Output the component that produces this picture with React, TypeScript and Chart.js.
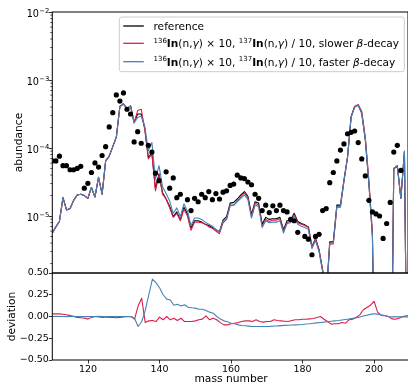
import React, { useEffect, useRef } from 'react';
import { Chart, registerables } from 'chart.js';

Chart.register(...registerables);

const FONT = '"DejaVu Sans", sans-serif';
const RED = '#dc1e46';
const BLUE = '#4682b4';

// ---------------- data ----------------
const massNumbers = [
  110, 111, 112, 113, 114, 115, 116, 117, 118, 119,
  120, 121, 122, 123, 124, 125, 126, 127, 128, 129,
  130, 131, 132, 133, 134, 135, 136, 137, 138, 139,
  140, 141, 142, 143, 144, 145, 146, 147, 148, 149,
  150, 151, 152, 153, 154, 155, 156, 157, 158, 159,
  160, 161, 162, 163, 164, 165, 166, 167, 168, 169,
  170, 171, 172, 173, 174, 175, 176, 177, 178, 179,
  180, 181, 182, 183, 184, 185, 186, 187, 188, 189,
  190, 191, 192, 193, 194, 195, 196, 197, 198, 199,
  200, 201, 202, 203, 204, 205, 206, 207, 208, 209,
  210,
];

// log10(abundance)
const referenceLog = [
  -5.25, -5.16, -5.08, -4.73, -4.91, -4.89, -4.77, -4.69, -4.68, -4.70,
  -4.74, -4.58, -4.72, -4.43, -4.68, -4.19, -4.12, -3.98, -3.84, -3.39,
  -3.35, -3.42, -3.38, -3.62, -3.50, -3.50, -3.71, -4.14, -4.07, -4.60,
  -4.38, -4.66, -4.75, -4.86, -5.01, -4.94, -5.06, -4.87, -4.97, -5.18,
  -5.07, -5.07, -5.09, -5.12, -5.14, -5.17, -5.20, -5.23, -5.06, -5.01,
  -4.81, -4.80, -4.75, -4.69, -4.64, -4.71, -4.98, -4.79, -4.81, -5.12,
  -5.02, -5.05, -5.04, -5.04, -5.02, -5.20, -5.07, -5.06, -4.96, -5.08,
  -5.11, -5.13, -5.16, -5.45, -5.33, -5.50, -5.79, -6.20, -5.38, -5.38,
  -4.84, -4.84, -4.47, -4.13, -3.54, -3.39, -3.37, -3.49, -3.88, -4.52,
  -5.30, -9.00, -9.00, -9.00, -9.00, -9.00, -4.30, -4.26, -4.74, -4.05,
  -9.00,
];

const slowerLog = [
  -5.25, -5.16, -5.08, -4.73, -4.91, -4.89, -4.77, -4.69, -4.68, -4.70,
  -4.74, -4.58, -4.72, -4.43, -4.68, -4.19, -4.12, -3.98, -3.84, -3.39,
  -3.35, -3.42, -3.38, -3.63, -3.45, -3.43, -3.73, -4.16, -4.09, -4.63,
  -4.39, -4.68, -4.75, -4.88, -5.02, -4.96, -5.07, -4.90, -5.00, -5.21,
  -5.09, -5.09, -5.10, -5.12, -5.16, -5.18, -5.22, -5.26, -5.10, -5.05,
  -4.85, -4.84, -4.78, -4.72, -4.66, -4.73, -5.01, -4.81, -4.84, -5.15,
  -5.05, -5.08, -5.06, -5.06, -5.04, -5.22, -5.10, -5.08, -4.98, -5.10,
  -5.12, -5.14, -5.17, -5.46, -5.34, -5.50, -5.80, -6.22, -5.41, -5.41,
  -4.87, -4.87, -4.49, -4.14, -3.55, -3.39, -3.36, -3.46, -3.84, -4.47,
  -5.23, -9.00, -9.00, -9.00, -9.00, -9.00, -4.31, -4.27, -4.74, -4.05,
  -9.00,
];

const fasterLog = [
  -5.25, -5.16, -5.08, -4.73, -4.91, -4.89, -4.77, -4.69, -4.68, -4.70,
  -4.74, -4.58, -4.72, -4.43, -4.68, -4.19, -4.12, -3.98, -3.84, -3.39,
  -3.35, -3.42, -3.38, -3.63, -3.55, -3.53, -3.68, -4.04, -3.92, -4.46,
  -4.26, -4.57, -4.67, -4.78, -4.96, -4.88, -5.01, -4.82, -4.93, -5.14,
  -5.03, -5.03, -5.05, -5.09, -5.12, -5.15, -5.20, -5.24, -5.08, -5.04,
  -4.84, -4.84, -4.79, -4.74, -4.69, -4.76, -5.03, -4.84, -4.86, -5.17,
  -5.07, -5.10, -5.09, -5.09, -5.07, -5.25, -5.11, -5.10, -5.00, -5.12,
  -5.15, -5.17, -5.20, -5.48, -5.36, -5.53, -5.82, -6.23, -5.40, -5.40,
  -4.86, -4.86, -4.48, -4.14, -3.55, -3.40, -3.37, -3.49, -3.87, -4.51,
  -5.29, -9.00, -9.00, -9.00, -9.00, -9.00, -4.30, -4.26, -4.74, -4.05,
  -9.00,
];

const solarMass = [
  110, 111, 112, 113, 114, 115, 116, 117, 118, 119,
  120, 121, 122, 123, 124, 125, 126, 127, 128, 129,
  130, 131, 132, 133, 134, 135, 137, 138, 139, 140,
  142, 143, 144, 145, 146, 148, 149, 150, 151, 152,
  153, 154, 155, 156, 157, 158, 159, 160, 161, 162,
  163, 164, 165, 166, 167, 168, 169, 170, 171, 172,
  173, 174, 175, 176, 177, 178, 179, 181, 182, 183,
  184, 185, 186, 187, 188, 189, 190, 191, 192, 193,
  194, 195, 196, 197, 198, 199, 200, 201, 202, 203,
  204, 205, 206, 207, 208,
];

const solarLog = [
  -4.19, -4.19, -4.12, -4.26, -4.26, -4.32, -4.32, -4.30, -4.27, -4.59,
  -4.52, -4.36, -4.22, -4.28, -4.11, -3.98, -3.69, -3.48, -3.22, -3.31,
  -3.19, -3.43, -3.50, -3.91, -3.76, -3.93, -3.96, -4.06, -4.37, -4.48,
  -4.35, -4.59, -4.44, -4.73, -4.68, -4.76, -4.92, -4.74, -4.79, -4.68,
  -4.73, -4.64, -4.76, -4.67, -4.75, -4.65, -4.63, -4.55, -4.53, -4.40,
  -4.44, -4.45, -4.50, -4.54, -4.68, -4.74, -4.92, -4.84, -4.95, -4.85,
  -4.92, -4.84, -4.92, -4.94, -5.05, -5.07, -5.24, -5.30, -5.34, -5.57,
  -5.30, -5.27, -4.92, -4.89, -4.51, -4.36, -4.19, -4.03, -3.94, -3.79,
  -3.77, -3.75, -3.92, -4.16, -4.41, -4.77, -4.94, -4.97, -5.00, -5.33,
  -5.11, -4.80, -4.06, -3.96, -4.33,
];

const slowerDeviation = [
  0.030, 0.030, 0.030, 0.025, 0.020, 0.010, 0.000, -0.010, -0.015, -0.020,
  -0.030, -0.010, 0.000, -0.005, -0.010, -0.005, -0.010, -0.010, -0.015, -0.010,
  -0.005, 0.000, 0.000, -0.030, 0.120, 0.210, -0.070, -0.050, -0.046, -0.058,
  -0.008, -0.038, 0.000, -0.038, -0.020, -0.046, -0.020, -0.058, -0.058, -0.058,
  -0.050, -0.038, -0.030, 0.008, -0.038, -0.020, -0.038, -0.070, -0.096, -0.096,
  -0.084, -0.077, -0.070, -0.058, -0.050, -0.050, -0.058, -0.038, -0.058, -0.065,
  -0.058, -0.058, -0.038, -0.046, -0.050, -0.054, -0.058, -0.046, -0.038, -0.038,
  -0.031, -0.031, -0.027, -0.023, -0.012, 0.000, -0.031, -0.058, -0.088, -0.084,
  -0.084, -0.069, -0.077, -0.038, -0.031, -0.012, 0.019, 0.077, 0.104, 0.130,
  0.175, 0.050, 0.012, 0.008, 0.000, -0.027, -0.031, -0.019, 0.000, 0.008,
  0.008,
];

const fasterDeviation = [
  0.000, 0.001, 0.000, 0.000, -0.002, 0.000, 0.001, 0.000, 0.000, -0.002,
  -0.002, 0.000, 0.000, 0.001, 0.000, 0.000, -0.001, 0.000, 0.000, 0.000,
  0.000, -0.001, 0.000, -0.020, -0.115, -0.060, 0.070, 0.250, 0.430, 0.390,
  0.330, 0.250, 0.200, 0.190, 0.130, 0.140, 0.120, 0.135, 0.107, 0.100,
  0.096, 0.084, 0.084, 0.070, 0.050, 0.038, 0.000, -0.030, -0.050, -0.061,
  -0.077, -0.084, -0.096, -0.104, -0.107, -0.111, -0.115, -0.115, -0.115, -0.115,
  -0.115, -0.113, -0.110, -0.108, -0.105, -0.102, -0.100, -0.098, -0.096, -0.094,
  -0.092, -0.087, -0.083, -0.078, -0.073, -0.069, -0.065, -0.060, -0.055, -0.050,
  -0.046, -0.040, -0.034, -0.028, -0.022, -0.015, -0.005, 0.005, 0.015, 0.024,
  0.031, 0.027, 0.019, 0.012, 0.000, -0.004, -0.004, -0.004, -0.004, -0.004,
  -0.004,
];

const abundanceExponents = [-5, -4, -3, -2];
const minorDecades = [-6, -5, -4, -3];
const minorMultipliers = [2, 3, 4, 5, 6, 7, 8, 9];
const deviationTicks = [-0.5, -0.25, 0, 0.25, 0.5];
const massTicks = [120, 140, 160, 180, 200];

type Seg = { t: string; s: 'n' | 'sup' | 'b' | 'i' };
const legendLabels: { segs: Seg[]; color: string }[] = [
  { segs: [{ t: 'reference', s: 'n' }], color: '#000000' },
  {
    segs: [
      { t: '136', s: 'sup' }, { t: 'In', s: 'b' }, { t: '(n,', s: 'n' }, { t: 'γ', s: 'i' },
      { t: ') × 10, ', s: 'n' },
      { t: '137', s: 'sup' }, { t: 'In', s: 'b' }, { t: '(n,', s: 'n' }, { t: 'γ', s: 'i' },
      { t: ') / 10, slower ', s: 'n' }, { t: 'β', s: 'i' }, { t: '-decay', s: 'n' },
    ],
    color: RED,
  },
  {
    segs: [
      { t: '136', s: 'sup' }, { t: 'In', s: 'b' }, { t: '(n,', s: 'n' }, { t: 'γ', s: 'i' },
      { t: ') × 10, ', s: 'n' },
      { t: '137', s: 'sup' }, { t: 'In', s: 'b' }, { t: '(n,', s: 'n' }, { t: 'γ', s: 'i' },
      { t: ') / 10, faster ', s: 'n' }, { t: 'β', s: 'i' }, { t: '-decay', s: 'n' },
    ],
    color: BLUE,
  },
];

// ---------------- layout ----------------
const CANVAS_W = 412;
const PLOT_LEFT = 52.3;
const PLOT_RIGHT = 409.8;
const TOP_CANVAS_H = 280;
const TOP_PLOT_TOP = 12;
const SPLIT_Y = 273;
const BOT_CANVAS_TOP = 262;
const BOT_CANVAS_H = 386 - BOT_CANVAS_TOP;
const BOT_PLOT_BOTTOM = 360;

const toPoints = (xs: number[], logs: number[]) =>
  xs.map((x, i) => ({ x, y: Math.pow(10, logs[i]) }));
const toDevPoints = (xs: number[], ys: number[]) => xs.map((x, i) => ({ x, y: ys[i] }));

const framePlugin = {
  id: 'frame',
  afterDraw(chart: any) {
    const { ctx, chartArea } = chart;
    ctx.save();
    ctx.strokeStyle = '#000';
    ctx.lineWidth = 1;
    ctx.strokeRect(chartArea.left, chartArea.top, chartArea.right - chartArea.left, chartArea.bottom - chartArea.top);
    ctx.restore();
  },
};

const topAxisPlugin = {
  id: 'topAxis',
  afterDraw(chart: any) {
    const { ctx, chartArea } = chart;
    const ys = chart.scales.y;
    ctx.save();
    ctx.strokeStyle = '#000';
    ctx.lineWidth = 0.7;
    for (const e of minorDecades) {
      for (const m of minorMultipliers) {
        const v = m * Math.pow(10, e);
        if (v < ys.min || v > ys.max) continue;
        const y = ys.getPixelForValue(v);
        ctx.beginPath();
        ctx.moveTo(chartArea.left - 2, y);
        ctx.lineTo(chartArea.left, y);
        ctx.stroke();
      }
    }
    ctx.fillStyle = '#000';
    ctx.textAlign = 'right';
    ctx.textBaseline = 'alphabetic';
    for (const e of abundanceExponents) {
      const y = ys.getPixelForValue(Math.pow(10, e));
      const sup = '−' + Math.abs(e);
      ctx.font = `6.8px ${FONT}`;
      const supW = ctx.measureText(sup).width;
      ctx.fillText(sup, 49.2, y + 0.8);
      ctx.font = `9.7px ${FONT}`;
      ctx.fillText('10', 49.2 - supW - 0.2, y + 4.5);
    }
    ctx.restore();
  },
};

const legendPlugin = {
  id: 'richLegend',
  afterDraw(chart: any) {
    const { ctx } = chart;
    const bx = 119.3, by = 17, bw = 404.3 - 119.3, bh = 71.7 - 17, r = 2.5;
    ctx.save();
    ctx.beginPath();
    ctx.moveTo(bx + r, by);
    ctx.lineTo(bx + bw - r, by);
    ctx.quadraticCurveTo(bx + bw, by, bx + bw, by + r);
    ctx.lineTo(bx + bw, by + bh - r);
    ctx.quadraticCurveTo(bx + bw, by + bh, bx + bw - r, by + bh);
    ctx.lineTo(bx + r, by + bh);
    ctx.quadraticCurveTo(bx, by + bh, bx, by + bh - r);
    ctx.lineTo(bx, by + r);
    ctx.quadraticCurveTo(bx, by, bx + r, by);
    ctx.closePath();
    ctx.fillStyle = 'rgba(255,255,255,0.8)';
    ctx.fill();
    ctx.strokeStyle = '#cccccc';
    ctx.lineWidth = 1;
    ctx.stroke();

    const rows = [26, 43.3, 61.7];
    legendLabels.forEach((entry, i) => {
      const y = rows[i];
      ctx.strokeStyle = entry.color;
      ctx.lineWidth = 1.3;
      ctx.beginPath();
      ctx.moveTo(123.3, y);
      ctx.lineTo(143.8, y);
      ctx.stroke();
      let x = 153.5;
      const base = y + 4;
      ctx.fillStyle = '#000';
      ctx.textAlign = 'left';
      ctx.textBaseline = 'alphabetic';
      for (const seg of entry.segs) {
        let font = `10.6px ${FONT}`;
        let yy = base;
        if (seg.s === 'sup') { font = `7px ${FONT}`; yy = base - 4.3; }
        else if (seg.s === 'b') font = `bold 10.6px ${FONT}`;
        else if (seg.s === 'i') font = `italic 10.6px ${FONT}`;
        ctx.font = font;
        ctx.fillText(seg.t, x, yy);
        x += ctx.measureText(seg.t).width;
      }
    });
    ctx.restore();
  },
};

function makeTopConfig(): any {
  return {
    type: 'line',
    data: {
      datasets: [
        {
          type: 'scatter',
          label: 'solar',
          data: toPoints(solarMass, solarLog),
          pointRadius: 2.6,
          pointBackgroundColor: '#000',
          pointBorderWidth: 0,
          showLine: false,
          order: 0,
        },
        {
          label: 'faster',
          data: toPoints(massNumbers, fasterLog),
          borderColor: BLUE,
          borderWidth: 1.1,
          pointRadius: 0,
          tension: 0,
          order: 1,
        },
        {
          label: 'slower',
          data: toPoints(massNumbers, slowerLog),
          borderColor: RED,
          borderWidth: 1.1,
          pointRadius: 0,
          tension: 0,
          order: 2,
        },
        {
          label: 'reference',
          data: toPoints(massNumbers, referenceLog),
          borderColor: '#000',
          borderWidth: 1.1,
          pointRadius: 0,
          tension: 0,
          order: 3,
        },
      ],
    },
    options: {
      responsive: false,
      animation: false,
      devicePixelRatio: 1,
      layout: {
        padding: { top: TOP_PLOT_TOP, right: CANVAS_W - PLOT_RIGHT, bottom: TOP_CANVAS_H - SPLIT_Y, left: 0 },
      },
      plugins: { legend: { display: false }, tooltip: { enabled: false } },
      elements: { line: { borderJoinStyle: 'round' } },
      scales: {
        x: { type: 'linear', min: 110, max: 210, display: false },
        y: {
          type: 'logarithmic',
          min: Math.pow(10, -5.838),
          max: 1e-2,
          afterFit: (s: any) => { s.width = PLOT_LEFT; },
          afterBuildTicks: (s: any) => { s.ticks = abundanceExponents.map((e) => ({ value: Math.pow(10, e) })); },
          ticks: { display: false },
          grid: { drawOnChartArea: false, drawTicks: true, tickLength: 3.5, color: '#000', lineWidth: 0.8 },
          border: { display: false },
          title: {
            display: true,
            text: 'abundance',
            color: '#000',
            font: { family: FONT, size: 10.7 },
            padding: { top: 12.6, bottom: 0 },
          },
        },
      },
    },
    plugins: [framePlugin, topAxisPlugin, legendPlugin],
  };
}

function makeBottomConfig(): any {
  return {
    type: 'line',
    data: {
      datasets: [
        {
          label: 'faster',
          data: toDevPoints(massNumbers, fasterDeviation),
          borderColor: BLUE,
          borderWidth: 1.1,
          pointRadius: 0,
          tension: 0,
          order: 0,
        },
        {
          label: 'slower',
          data: toDevPoints(massNumbers, slowerDeviation),
          borderColor: RED,
          borderWidth: 1.1,
          pointRadius: 0,
          tension: 0,
          order: 1,
        },
      ],
    },
    options: {
      responsive: false,
      animation: false,
      devicePixelRatio: 1,
      layout: {
        padding: { top: SPLIT_Y - BOT_CANVAS_TOP, right: CANVAS_W - PLOT_RIGHT, bottom: 0, left: 0 },
      },
      plugins: { legend: { display: false }, tooltip: { enabled: false } },
      elements: { line: { borderJoinStyle: 'round' } },
      scales: {
        x: {
          type: 'linear',
          min: 110,
          max: 210,
          afterFit: (s: any) => { s.height = BOT_CANVAS_TOP + BOT_CANVAS_H - BOT_PLOT_BOTTOM; },
          afterBuildTicks: (s: any) => { s.ticks = massTicks.map((v) => ({ value: v })); },
          ticks: {
            color: '#000',
            font: { family: FONT, size: 9.5 },
            padding: 0,
            maxRotation: 0,
            autoSkip: false,
            callback: (v: any) => String(v),
          },
          grid: { drawOnChartArea: false, drawTicks: true, tickLength: 3.5, color: '#000', lineWidth: 0.8 },
          border: { display: false },
          title: {
            display: true,
            text: 'mass number',
            color: '#000',
            font: { family: FONT, size: 10.7 },
            padding: { top: 0, bottom: 0 },
          },
        },
        y: {
          type: 'linear',
          min: -0.5,
          max: 0.5,
          afterFit: (s: any) => { s.width = PLOT_LEFT; },
          afterBuildTicks: (s: any) => { s.ticks = deviationTicks.map((v) => ({ value: v })); },
          ticks: {
            color: '#000',
            font: { family: FONT, size: 9.5 },
            padding: 0,
            callback: (v: any) => Number(v).toFixed(2).replace('-', '−'),
          },
          grid: { drawOnChartArea: false, drawTicks: true, tickLength: 3.5, color: '#000', lineWidth: 0.8 },
          border: { display: false },
          title: {
            display: true,
            text: 'deviation',
            color: '#000',
            font: { family: FONT, size: 10.7 },
            padding: { top: 5.6, bottom: 0 },
          },
        },
      },
    },
    plugins: [framePlugin],
  };
}

export default function App() {
  const topRef = useRef<HTMLCanvasElement>(null);
  const botRef = useRef<HTMLCanvasElement>(null);
  useEffect(() => {
    const top = new Chart(topRef.current as HTMLCanvasElement, makeTopConfig());
    const bot = new Chart(botRef.current as HTMLCanvasElement, makeBottomConfig());
    return () => {
      top.destroy();
      bot.destroy();
    };
  }, []);
  return (
    <div style={{ position: 'absolute', left: 0, top: 0, width: 408, height: 386, overflow: 'hidden', background: '#fff' }}>
      <canvas ref={topRef} width={CANVAS_W} height={TOP_CANVAS_H} style={{ position: 'absolute', left: 0, top: 0 }} />
      <canvas ref={botRef} width={CANVAS_W} height={BOT_CANVAS_H} style={{ position: 'absolute', left: 0, top: BOT_CANVAS_TOP }} />
    </div>
  );
}
